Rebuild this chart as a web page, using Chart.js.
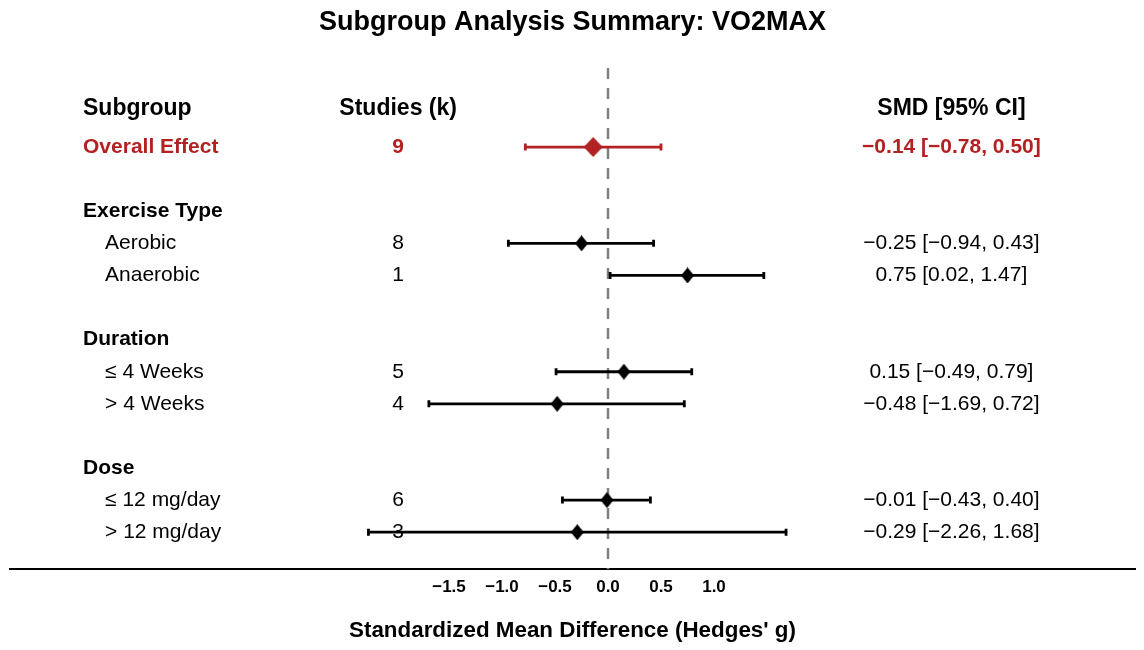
<!DOCTYPE html>
<html>
<head>
<meta charset="utf-8">
<script src="https://cdn.jsdelivr.net/npm/chart.js@4.4.1/dist/chart.umd.min.js"></script>
<style>
  html, body { margin: 0; padding: 0; background: #fff; }
  #wrap { width: 1144px; height: 650px; }
</style>
</head>
<body>
<div id="wrap"><canvas id="forest"></canvas></div>
<script>
// rows of the forest plot (top to bottom)
var rowLabels = ['Overall Effect', 'Exercise Type', 'Aerobic', 'Anaerobic', 'Duration', '\u2264 4 Weeks', '> 4 Weeks', 'Dose', '\u2264 12 mg/day', '> 12 mg/day'];
var rowKind = ['overall', 'group', 'item', 'item', 'group', 'item', 'item', 'group', 'item', 'item'];
var rowPos = [1, 3, 4, 5, 7, 8, 9, 11, 12, 13];
var studies = [9, null, 8, 1, null, 5, 4, null, 6, 3];
var smd = [-0.14, null, -0.25, 0.75, null, 0.15, -0.48, null, -0.01, -0.29];
var ciLow = [-0.78, null, -0.94, 0.02, null, -0.49, -1.69, null, -0.43, -2.26];
var ciHigh = [0.50, null, 0.43, 1.47, null, 0.79, 0.72, null, 0.40, 1.68];
var xTicks = [-1.5, -1.0, -0.5, 0.0, 0.5, 1.0];
var headers = ['Subgroup', 'Studies (k)', 'SMD [95% CI]'];

var RED = '#B22222';
var FONT = '"Liberation Sans", Arial, Helvetica, sans-serif';

function fmt(v) {
  var s = Math.abs(v).toFixed(2);
  return (v < 0 ? '\u2212' : '') + s;
}

// diamond marker as a small canvas (a bit taller than wide)
function diamond(w, h, color) {
  var c = document.createElement('canvas');
  c.width = w; c.height = h;
  var g = c.getContext('2d');
  g.fillStyle = color;
  g.beginPath();
  g.moveTo(w / 2, 0);
  g.lineTo(w, h / 2);
  g.lineTo(w / 2, h);
  g.lineTo(0, h / 2);
  g.closePath();
  g.fill();
  return c;
}
var redDiamond = diamond(19, 20, RED);
var blackDiamond = diamond(13, 16, '#000');

// table columns, in x data units
var colLabel = -4.953, colIndent = -4.745, colK = -1.98, colSmd = 3.24;
var headerRow = -0.2;

var points = [];
for (var i = 0; i < rowLabels.length; i++) {
  if (smd[i] !== null) points.push({ x: smd[i], y: rowPos[i], overall: rowKind[i] == 'overall' });
}

var forestPlugin = {
  id: 'forest',
  beforeDatasetsDraw: function(chart) {
    var ctx = chart.ctx, xs = chart.scales.x, ys = chart.scales.y, area = chart.chartArea;
    ctx.save();
    // null effect line
    ctx.strokeStyle = '#808080';
    ctx.lineWidth = 2.5;
    ctx.setLineDash([11, 9]);
    ctx.beginPath();
    ctx.moveTo(xs.getPixelForValue(0), area.top);
    ctx.lineTo(xs.getPixelForValue(0), area.bottom);
    ctx.stroke();
    ctx.setLineDash([]);

    // headers
    ctx.fillStyle = '#000';
    ctx.textBaseline = 'middle';
    ctx.font = 'bold 23px ' + FONT;
    var hy = ys.getPixelForValue(headerRow);
    ctx.textAlign = 'left';
    ctx.fillText(headers[0], xs.getPixelForValue(colLabel), hy);
    ctx.textAlign = 'center';
    ctx.fillText(headers[1], xs.getPixelForValue(colK), hy);
    ctx.fillText(headers[2], xs.getPixelForValue(colSmd), hy);

    // rows
    for (var i = 0; i < rowLabels.length; i++) {
      var y = ys.getPixelForValue(rowPos[i]);
      var kind = rowKind[i];
      if (kind == 'overall') {
        ctx.fillStyle = RED;
        ctx.font = 'bold 21px ' + FONT;
      } else if (kind == 'group') {
        ctx.fillStyle = '#000';
        ctx.font = 'bold 21px ' + FONT;
      } else {
        ctx.fillStyle = '#000';
        ctx.font = '21px ' + FONT;
      }
      ctx.textAlign = 'left';
      ctx.fillText(rowLabels[i], xs.getPixelForValue(kind == 'item' ? colIndent : colLabel), y);
      if (studies[i] !== null) {
        ctx.textAlign = 'center';
        ctx.fillText(String(studies[i]), xs.getPixelForValue(colK), y);
        ctx.fillText(fmt(smd[i]) + ' [' + fmt(ciLow[i]) + ', ' + fmt(ciHigh[i]) + ']', xs.getPixelForValue(colSmd), y);
      }
    }

    // confidence intervals
    for (var i = 0; i < rowLabels.length; i++) {
      if (smd[i] === null) continue;
      var y = ys.getPixelForValue(rowPos[i]);
      var x1 = xs.getPixelForValue(ciLow[i]), x2 = xs.getPixelForValue(ciHigh[i]);
      ctx.strokeStyle = rowKind[i] == 'overall' ? RED : '#000';
      ctx.lineWidth = 2.8;
      ctx.beginPath();
      ctx.moveTo(x1, y);
      ctx.lineTo(x2, y);
      ctx.stroke();
      ctx.beginPath();
      ctx.moveTo(x1, y - 3.5);
      ctx.lineTo(x1, y + 3.5);
      ctx.moveTo(x2, y - 3.5);
      ctx.lineTo(x2, y + 3.5);
      ctx.stroke();
    }
    ctx.restore();
  }
};

new Chart(document.getElementById('forest'), {
  type: 'scatter',
  data: {
    datasets: [{
      data: points,
      pointStyle: function(c) { return c.raw && c.raw.overall ? redDiamond : blackDiamond; },
      pointRadius: 8,
      pointHoverRadius: 8
    }]
  },
  options: {
    responsive: true,
    maintainAspectRatio: false,
    animation: false,
    layout: { padding: { left: 10, right: 9, top: 0, bottom: 6 } },
    plugins: {
      legend: { display: false },
      tooltip: { enabled: false },
      title: {
        display: true,
        text: 'Subgroup Analysis Summary: VO2MAX',
        color: '#000',
        font: { family: FONT, size: 27, weight: 'bold' },
        padding: { top: 6, bottom: 29.6 }
      }
    },
    scales: {
      x: {
        type: 'linear',
        min: -5.642,
        max: 4.972,
        afterBuildTicks: function(axis) {
          axis.ticks = xTicks.map(function(v) { return { value: v }; });
        },
        grid: { display: false, drawTicks: false },
        border: { display: true, color: '#000', width: 2 },
        ticks: {
          color: '#000',
          padding: 8,
          maxRotation: 0,
          autoSkip: false,
          font: { family: FONT, size: 17, weight: 'bold' },
          callback: function(v) { return fmt(v).replace('.00', '.0').replace(/(\.\d)0$/, '$1'); }
        },
        title: {
          display: true,
          text: "Standardized Mean Difference (Hedges' g)",
          color: '#000',
          font: { family: FONT, size: 22.4, weight: 'bold' },
          padding: { top: 11.5, bottom: 0 }
        }
      },
      y: {
        type: 'linear',
        reverse: true,
        min: -1.463,
        max: 14.153,
        display: false
      }
    }
  },
  plugins: [forestPlugin]
});
</script>
</body>
</html>
